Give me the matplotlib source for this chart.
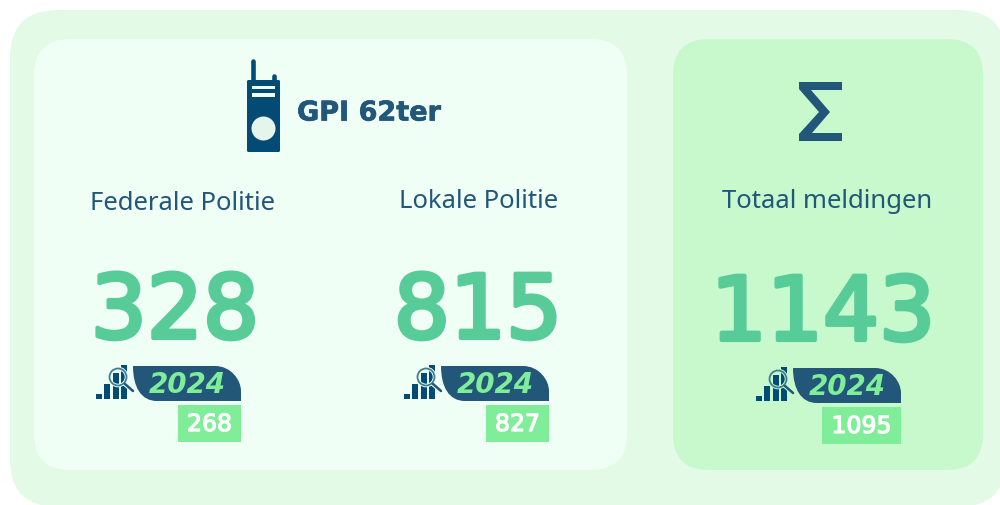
import matplotlib
matplotlib.use("Agg")
import matplotlib.pyplot as plt
from matplotlib.patches import FancyBboxPatch, Rectangle, Circle, PathPatch, Polygon
from matplotlib.path import Path
import matplotlib.patheffects as pe

title = "GPI 62ter"
labels = ["Federale Politie", "Lokale Politie", "Totaal meldingen"]
values = ["328", "815", "1143"]
prev_year = "2024"
prev_values = ["268", "827", "1095"]

NAVY = "#22577A"
DARK = "#024B75"
GREEN = "#57CC99"
LIGHT = "#80ED99"
OUTER = "#E3FBE6"
LEFT = "#EFFFF5"
RIGHT = "#C7F9CC"
BODY = "Noto Sans"
NUM = "DejaVu Sans"

fig = plt.figure(figsize=(10, 5.05), dpi=100, facecolor="white")
ax = fig.add_axes([0, 0, 1, 1])
ax.set_xlim(0, 1000)
ax.set_ylim(505, 0)
ax.axis("off")


def bold(color, w):
    return [pe.withStroke(linewidth=w, foreground=color)]


def panel(x0, y0, x1, y1, r, color):
    ax.add_patch(FancyBboxPatch((x0 + r, y0 + r), x1 - x0 - 2 * r, y1 - y0 - 2 * r,
                                boxstyle=f"round,pad={r},rounding_size={r}",
                                fc=color, ec="none"))


panel(10, 10, 1006, 507, 48, OUTER)
panel(34, 39, 627, 470, 36, LEFT)
panel(673, 39, 983, 470, 36, RIGHT)


def rect(x0, y0, x1, y1, color, z=3):
    ax.add_patch(Rectangle((x0, y0), x1 - x0, y1 - y0, fc=color, ec="none", zorder=z))


# radio icon
ax.plot([252.5, 252.5], [61, 82], color=DARK, lw=3.3, solid_capstyle="round", zorder=3)
ax.plot([273.5, 273.5], [76, 82], color=DARK, lw=3.3, solid_capstyle="round", zorder=3)
ax.add_patch(FancyBboxPatch((247, 80), 33, 72, boxstyle="round,pad=0,rounding_size=1.5",
                            fc=DARK, ec="none", zorder=3))
rect(252, 86, 275, 89, LEFT, 4)
rect(252, 93, 275, 96.5, LEFT, 4)
ax.add_patch(Circle((263.5, 128.5), 12, fc="#E6F5EC", ec="none", zorder=4))
ax.text(297, 113.5, title, fontsize=19.5, fontweight="bold", family="DejaVu Sans",
        color=NAVY, ha="left", va="center", path_effects=bold(NAVY, 0.5))

# sigma
ax.add_patch(Polygon([(799, 82), (842, 82), (842, 90), (811, 90), (830, 112),
                      (812, 133), (842, 133), (842, 141), (799, 141), (799, 134),
                      (819, 112), (799, 89)], closed=True, fc=NAVY, ec="none", zorder=3))


def block(i, xlabel, ylabel, xval, xicon, badge_x1, box_x0, box_y0, box_y1, yoff, bg):
    ax.text(xlabel, ylabel, labels[i], fontsize=18.5, family=BODY, color=NAVY,
            ha="center", va="center")
    ax.text(xval, 338 + (0 if i < 2 else 2), values[i], fontsize=63.5, family=NUM,
            color=GREEN, ha="center", va="baseline", path_effects=bold(GREEN, 3.0))
    y0 = 366 + yoff
    y1 = 401 + yoff
    x0 = xicon + 38
    x1 = badge_x1
    verts = [(x0, y0), (x1 - 26, y0), (x1 - 10, y0), (x1, y0 + 14), (x1, y1 - 10),
             (x1, y1), (x0 + 24, y1), (x0 + 8, y1), (x0, y1 - 14), (x0, y0)]
    codes = [Path.MOVETO, Path.LINETO, Path.CURVE4, Path.CURVE4, Path.CURVE4,
             Path.LINETO, Path.LINETO, Path.CURVE4, Path.CURVE4, Path.CLOSEPOLY]
    ax.add_patch(PathPatch(Path(verts, codes), fc=NAVY, ec="none", zorder=3))
    ax.text((x0 + x1) / 2, (y0 + y1) / 2 + 1.5, prev_year, fontsize=20, fontweight="bold",
            style="italic", family="DejaVu Sans", color=LIGHT, ha="center", va="center", zorder=4)
    # chart + magnifier icon
    base = 399 + yoff
    for dx, top in [(1, 394), (9, 384), (18, 373), (26, 365)]:
        rect(xicon + dx, top + yoff, xicon + dx + 6, base, DARK)
    cx, cy = xicon + 23, 377 + yoff
    ax.add_patch(Circle((cx, cy), 8.5, fc="none", ec=bg, lw=2.6, zorder=5))
    ax.add_patch(Circle((cx, cy), 8.5, fc="none", ec="#3F7F95", lw=1.3, zorder=6))
    ax.plot([cx + 6.5, cx + 15], [cy + 6.5, cy + 14], color=bg, lw=3.4, zorder=5,
            solid_capstyle="round")
    ax.plot([cx + 7, cx + 15], [cy + 7, cy + 14], color=NAVY, lw=1.8, zorder=6,
            solid_capstyle="round")
    rect(box_x0, box_y0, badge_x1, box_y1, LIGHT)
    ax.text((box_x0 + badge_x1) / 2, (box_y0 + box_y1) / 2 + 0.5, prev_values[i], fontsize=17,
            family=NUM, color="white", ha="center", va="center", zorder=4,
            path_effects=bold("white", 0.9))


block(0, 182, 203, 175, 95, 241, 178, 405, 442, 0, LEFT)
block(1, 479, 202, 478, 403, 549, 486, 405, 442, 0, LEFT)
block(2, 827, 202, 823, 755, 901, 822, 407, 444, 2, RIGHT)

fig.savefig("out.png", dpi=100, facecolor="white")
